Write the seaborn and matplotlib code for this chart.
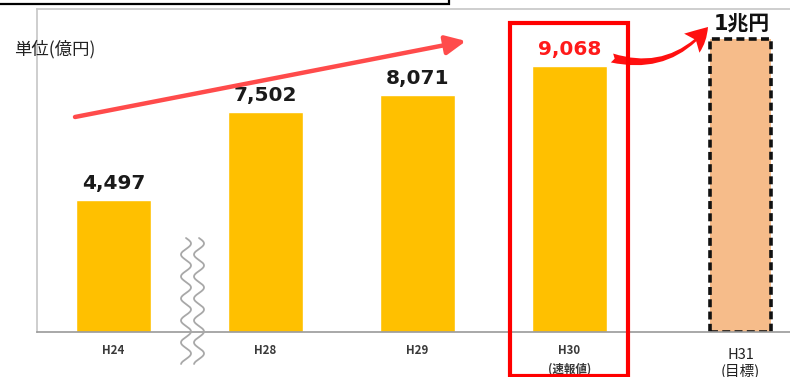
import numpy as np
import pandas as pd
import matplotlib
matplotlib.use("Agg")
import matplotlib.pyplot as plt
import seaborn as sns
from matplotlib.patches import FancyArrowPatch, Rectangle
from matplotlib.lines import Line2D

# ---- data ----
years = ["H24", "H28", "H29", "H30\n(速報値)", "H31\n(目標)"]
values = [4497, 7502, 8071, 9068, 10000]
value_labels = ["4,497", "7,502", "8,071", "9,068", "1兆円"]
unit_label = "単位(億円)"

W, H = 790, 377
sns.set_theme(style="white")
plt.rcParams['font.family'] = ['Noto Sans CJK JP', 'DejaVu Sans']

fig = plt.figure(figsize=(W / 100, H / 100), dpi=100)

def fx(x):
    return x / W

def fy(y):
    return 1 - y / H

ax = fig.add_axes([fx(37), fy(332), fx(790) - fx(37), fy(9) - fy(332)])

df = pd.DataFrame({"year": years, "value": values})
palette = ["#FFC000"] * 4 + ["#F6BC8A"]
sns.barplot(data=df, x="year", y="value", hue="year", palette=palette,
            order=years, hue_order=years, saturation=1, width=0.49,
            legend=False, ax=ax)

# target bar styling
bars = ax.patches
tb = bars[4]
tpos = 4.125
tw = 0.40
tb.set_x(tpos - tw / 2)
tb.set_width(tw)
tb.set_edgecolor("#111111")
tb.set_linewidth(2.6)
tb.set_linestyle((0, (2.2, 1.2)))

ax.set_xlim(-0.503, 4.45)
ax.set_ylim(0, 11009)
ax.set_xlabel("")
ax.set_ylabel("")
ax.set_yticks([])

# ticks: labels at bar centers, small marks at boundaries
centers = [0, 1, 2, 3, tpos]
ax.set_xticks(centers)
ax.set_xticklabels(years)
ax.tick_params(axis="x", which="major", length=0, pad=9)
ax.set_xticks([1.5, 2.5, 3.5], minor=True)
ax.tick_params(axis="x", which="minor", length=3, color="#9a9a9a", direction="out", width=1)
for i, lab in enumerate(ax.get_xticklabels()):
    if i < 4:
        lab.set_fontsize(8.3)
        lab.set_fontweight("bold")
        lab.set_color("#3a3a3a")
        lab.set_linespacing(1.55)
    else:
        lab.set_fontsize(10.5)
        lab.set_color("#222222")
        lab.set_linespacing(1.1)
        lab.set_y(-0.01)

for side in ["right"]:
    ax.spines[side].set_visible(False)
ax.spines["bottom"].set_color("#9a9a9a")
ax.spines["bottom"].set_linewidth(1.2)
ax.spines["left"].set_color("#c8c8c8")
ax.spines["top"].set_color("#c8c8c8")
for s in ["left", "top", "bottom"]:
    ax.spines[s].set_visible(True)

# value labels
for i in range(4):
    col = "#FF1A1A" if i == 3 else "#1a1a1a"
    ax.annotate(value_labels[i], (i, values[i]), xytext=(0, 5), textcoords="offset points",
                ha="center", va="bottom", fontsize=14.5, fontweight="bold",
                color=col, family="DejaVu Sans")
ax.annotate(value_labels[4], (tpos + 0.01, values[4]), xytext=(0, 3), textcoords="offset points",
            ha="center", va="bottom", fontsize=15, fontweight="bold", color="#111111",
            family=["DejaVu Sans", "Noto Sans CJK JP"])

# unit label
fig.text(fx(14), fy(49), unit_label, ha="left", va="center", fontsize=12.5, color="#222222")

# top-left box outline
fig.add_artist(Rectangle((fx(-3), fy(4)), fx(452), fy(-20) - fy(4), transform=fig.transFigure,
                         fill=False, edgecolor="black", linewidth=1.6, clip_on=False))

# straight red arrow
fig.add_artist(FancyArrowPatch((fx(75), fy(117)), (fx(466), fy(41)), transform=fig.transFigure,
                               arrowstyle="-|>,head_length=5.5,head_width=2.6", mutation_scale=2.2,
                               color="#FF4B4B", linewidth=3.2, shrinkA=0, shrinkB=0))

# curved red arrow
fig.add_artist(FancyArrowPatch((fx(612), fy(58)), (fx(708), fy(27)), transform=fig.transFigure,
                               connectionstyle="arc3,rad=0.32",
                               arrowstyle="fancy,head_length=1.5,head_width=1.6,tail_width=0.6",
                               mutation_scale=11, color="#FF1010", linewidth=0,
                               shrinkA=0, shrinkB=0))

# red highlight rectangle
fig.add_artist(Rectangle((fx(510), fy(376)), fx(628) - fx(510), fy(23) - fy(376),
                         transform=fig.transFigure, fill=False, edgecolor="#FF0000",
                         linewidth=3, clip_on=False))

# wavy break lines
yy = np.linspace(238, 364, 300)
for xc in (186, 199):
    xx = xc + 5 * np.sin((yy - 238) / 22 * 2 * np.pi)
    fig.add_artist(Line2D(fx(xx), fy(yy), transform=fig.transFigure,
                          color="#a8a8a8", linewidth=1.3))

fig.savefig("out.png", dpi=100)
